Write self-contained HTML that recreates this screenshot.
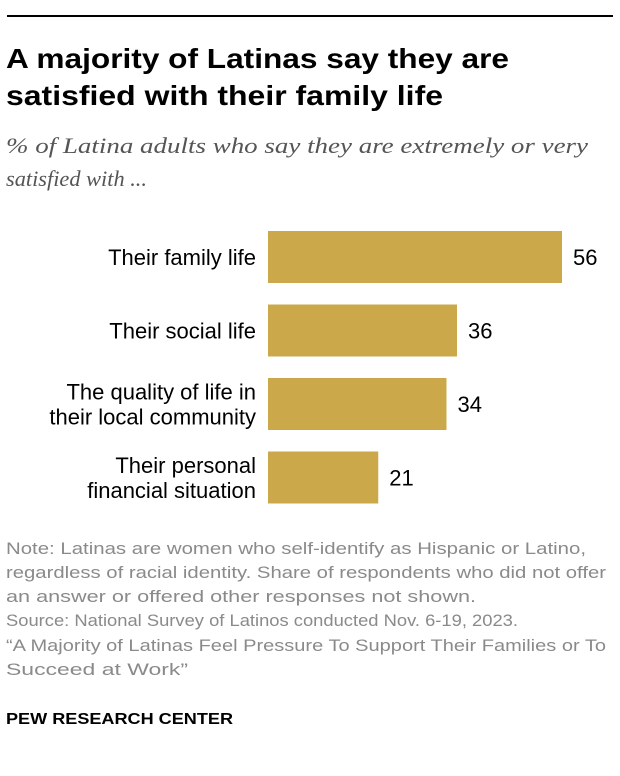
<!DOCTYPE html>
<html><head><meta charset="utf-8"><style>
body{margin:0;background:#fff;}
svg{display:block;font-family:"Liberation Sans",sans-serif;}
</style></head><body>
<svg id="chart" width="620" height="776">
<line x1="7" y1="16" x2="613" y2="16" stroke="#000" stroke-width="2"/>
<text x="6" y="68" font-size="28" font-weight="bold" textLength="503" lengthAdjust="spacingAndGlyphs">A majority of Latinas say they are</text>
<text x="6" y="105" font-size="28" font-weight="bold" textLength="437" lengthAdjust="spacingAndGlyphs">satisfied with their family life</text>
<text x="6" y="153" font-size="22" font-style="italic" fill="#555" font-family="Liberation Serif, serif" textLength="582" lengthAdjust="spacingAndGlyphs">% of Latina adults who say they are extremely or very</text>
<text x="6" y="186" font-size="22" font-style="italic" fill="#555" font-family="Liberation Serif, serif" textLength="141" lengthAdjust="spacingAndGlyphs">satisfied with ...</text>
<g id="bars"></g>
<g font-size="17" fill="#8a8a8a" lengthAdjust="spacingAndGlyphs">
<text x="6" y="554" textLength="580" lengthAdjust="spacingAndGlyphs">Note: Latinas are women who self-identify as Hispanic or Latino,</text>
<text x="6" y="578" textLength="600" lengthAdjust="spacingAndGlyphs">regardless of racial identity. Share of respondents who did not offer</text>
<text x="6" y="602" textLength="470" lengthAdjust="spacingAndGlyphs">an answer or offered other responses not shown.</text>
<text x="6" y="626" textLength="512" lengthAdjust="spacingAndGlyphs">Source: National Survey of Latinos conducted Nov. 6-19, 2023.</text>
<text x="6" y="651" textLength="600" lengthAdjust="spacingAndGlyphs">“A Majority of Latinas Feel Pressure To Support Their Families or To</text>
<text x="6" y="675" textLength="182" lengthAdjust="spacingAndGlyphs">Succeed at Work”</text>
</g>
<text x="6" y="724" font-size="16" font-weight="bold" fill="#000" textLength="227" lengthAdjust="spacingAndGlyphs">PEW RESEARCH CENTER</text>
</svg>
<script>
const categories=[["Their family life"],["Their social life"],["The quality of life in","their local community"],["Their personal","financial situation"]];
const values=[56,36,34,21];
const valueLabels=["56","36","34","21"];
const x0=268, scale=5.25, y0=231, step=73.5, bh=52;
const xs=v=>x0+v*scale, ys=i=>y0+i*step;
const g=document.getElementById('bars');
const NS="http://www.w3.org/2000/svg";
values.forEach((v,i)=>{
  const r=document.createElementNS(NS,'rect');
  r.setAttribute('x',x0);r.setAttribute('y',ys(i));r.setAttribute('width',xs(v)-x0);r.setAttribute('height',bh);r.setAttribute('fill','#cba94a');
  
  
  g.appendChild(r);
  const t=document.createElementNS(NS,'text');
  t.setAttribute('x',xs(v)+11);t.setAttribute('y',ys(i)+bh/2+8);t.setAttribute('font-size','22');t.textContent=valueLabels[i];
  
  
  g.appendChild(t);
  const lines=categories[i];
  lines.forEach((ln,j)=>{
    const c=document.createElementNS(NS,'text');
    const cy=ys(i)+bh/2+8+(j-(lines.length-1)/2)*25;
    c.setAttribute('x',256);c.setAttribute('y',cy);c.setAttribute('font-size','22');c.setAttribute('text-anchor','end');c.textContent=ln;
    
    
    g.appendChild(c);
  });
});
</script>
</body></html>
